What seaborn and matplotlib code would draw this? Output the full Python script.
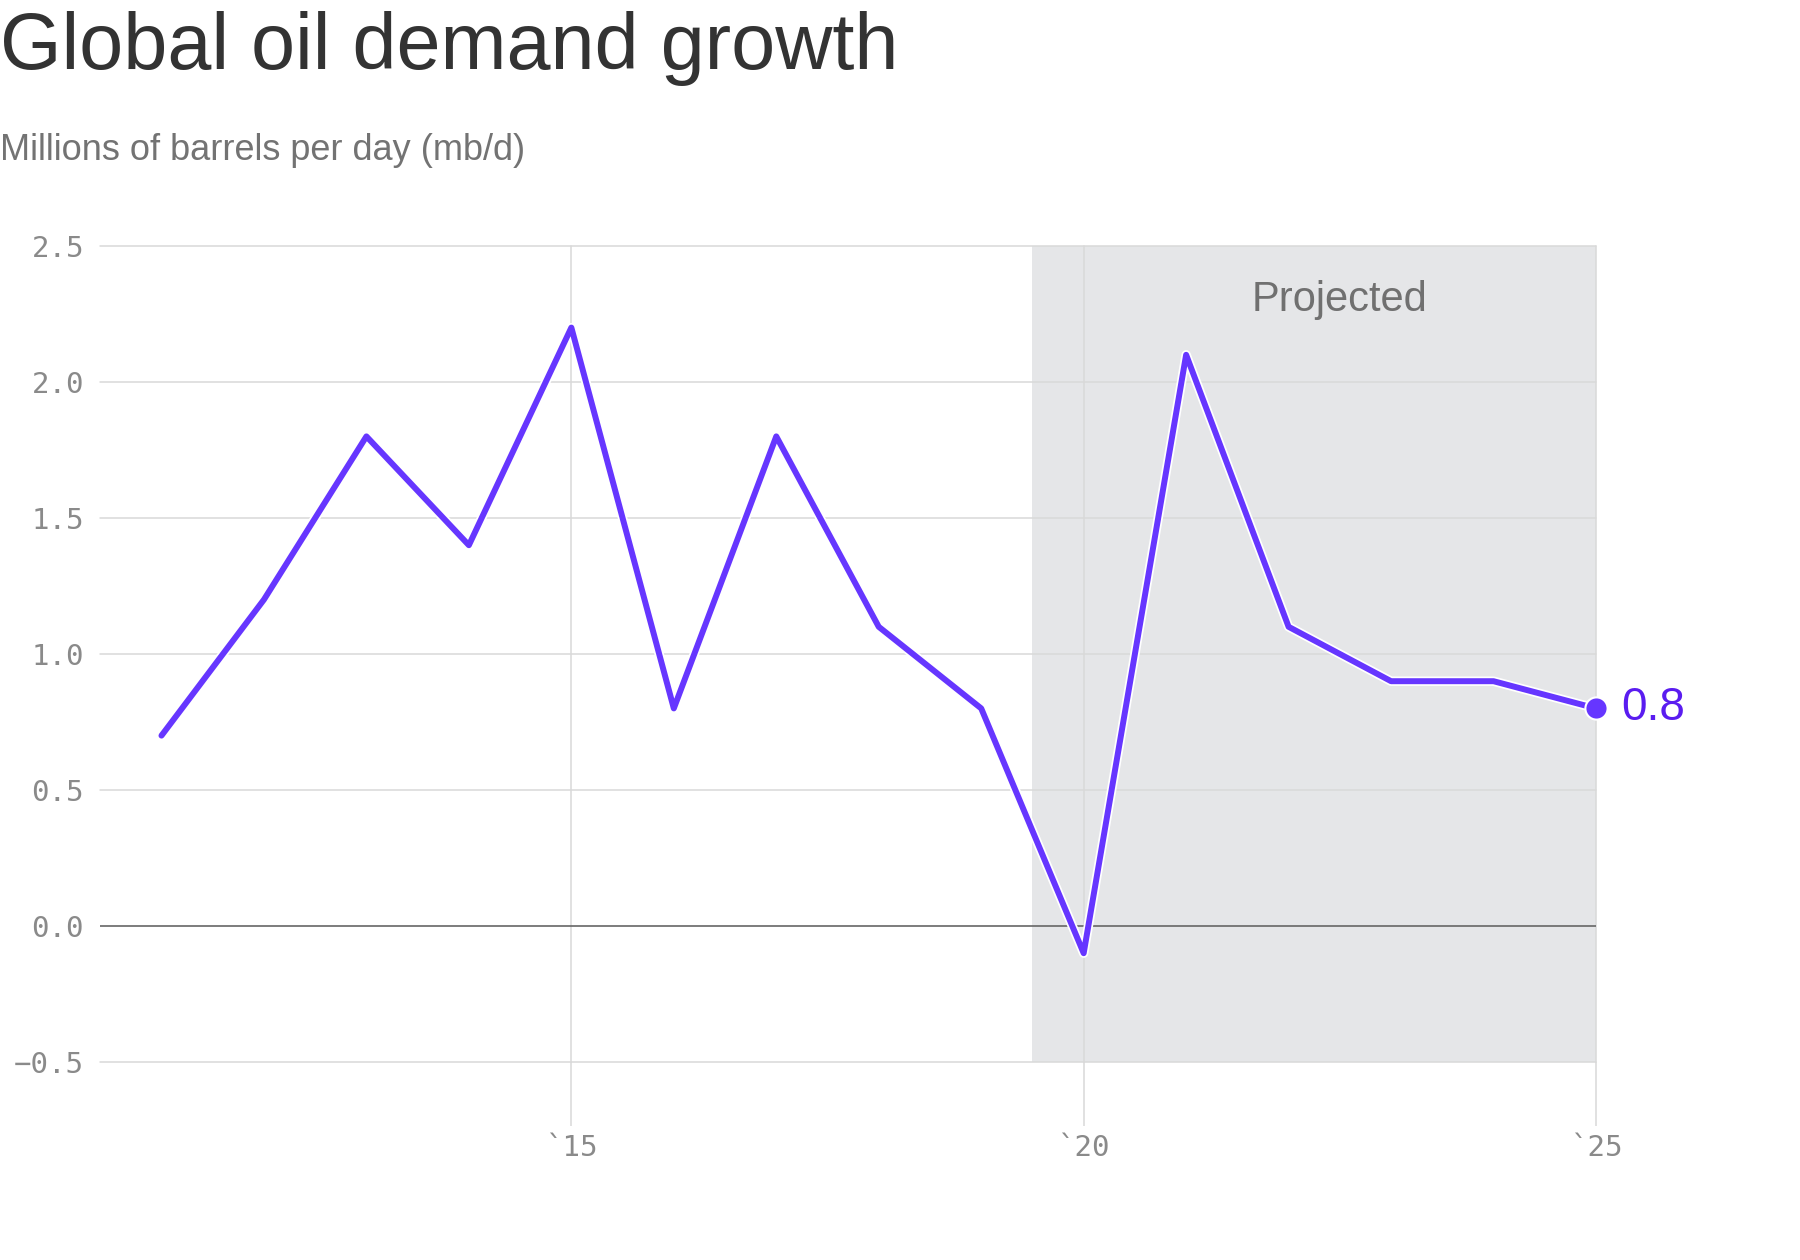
import matplotlib
matplotlib.use("Agg")
import matplotlib.pyplot as plt
import matplotlib.patheffects as pe
import seaborn as sns
import pandas as pd

years = [2011, 2012, 2013, 2014, 2015, 2016, 2017, 2018, 2019, 2020, 2021, 2022, 2023, 2024, 2025]
growth = [0.7, 1.2, 1.8, 1.4, 2.2, 0.8, 1.8, 1.1, 0.8, -0.1, 2.1, 1.1, 0.9, 0.9, 0.8]
y_ticks = [-0.5, 0.0, 0.5, 1.0, 1.5, 2.0, 2.5]
x_ticks = [2015, 2020, 2025]
x_tick_labels = ["`15", "`20", "`25"]
projected_start = 2019.5
projected_end = 2025

title = "Global oil demand growth"
subtitle = "Millions of barrels per day (mb/d)"

df = pd.DataFrame({"year": years, "growth": growth})

sns.set_theme(style="white")
plt.rcParams["font.family"] = ["Liberation Sans", "DejaVu Sans"]

fig = plt.figure(figsize=(18, 12.6), dpi=100)
ax = fig.add_axes([100 / 1800, 1 - 1062 / 1260, (1596 - 100) / 1800, (1062 - 246) / 1260])

LINE = "#6636ff"
GRID = "#d9d9d9"
TICK = "#8a8a8a"

ax.axvspan(projected_start, projected_end, ymin=0, ymax=1, color="#e5e6e8", zorder=0.1, lw=0)
ax.axhline(0, color="#666666", lw=1.2, zorder=1)
for yv in y_ticks:
    if yv != 0:
        ax.axhline(yv, color=GRID, lw=1.1, zorder=0.5, clip_on=False)
for xv in x_ticks:
    ax.axvline(xv, color=GRID, lw=1.1, zorder=0.5, clip_on=False)

sns.lineplot(data=df, x="year", y="growth", ax=ax, color=LINE, lw=4.3, zorder=3,
             path_effects=[pe.Stroke(linewidth=6.8, foreground="white"), pe.Normal()])

ax.plot([years[-1]], [growth[-1]], "o", color=LINE, ms=16, mec="white", mew=1.5,
        zorder=4, clip_on=False)
ax.annotate(f"{growth[-1]}", (years[-1], growth[-1]), xytext=(18, 0), textcoords="offset points",
            va="center", ha="left", fontsize=33, color="#5a1cf0")

ax.text((projected_start + projected_end) / 2 + 0.25, 2.3, "Projected", ha="center", va="center",
        fontsize=30, color="#707070")

ax.set_xlim(2010.4, 2025)
ax.set_ylim(-0.5, 2.5)
ax.set_yticks(y_ticks)
ax.set_yticklabels([f"{v:.1f}".replace("-", "\u2212") for v in y_ticks])
ax.set_xticks(x_ticks)
ax.set_xticklabels(x_tick_labels)
ax.set_xlabel("")
ax.set_ylabel("")

ax.grid(False)
for s in ax.spines.values():
    s.set_visible(False)

ax.tick_params(axis="y", left=True, length=0, pad=11.5, labelsize=21, labelcolor=TICK)
ax.tick_params(axis="x", bottom=True, length=46, width=1.1, color=GRID, pad=6, labelsize=21,
               labelcolor=TICK, direction="out")
for lab in ax.get_xticklabels() + ax.get_yticklabels():
    lab.set_family(["DejaVu Sans Mono"])

fig.text(0.0, 1 - 69 / 1260, title, fontsize=57, color="#333333", ha="left", va="baseline")
fig.text(0.0, 1 - 160 / 1260, subtitle, fontsize=26, color="#737373", ha="left", va="baseline")

fig.savefig("out.png", dpi=100, facecolor="white")
